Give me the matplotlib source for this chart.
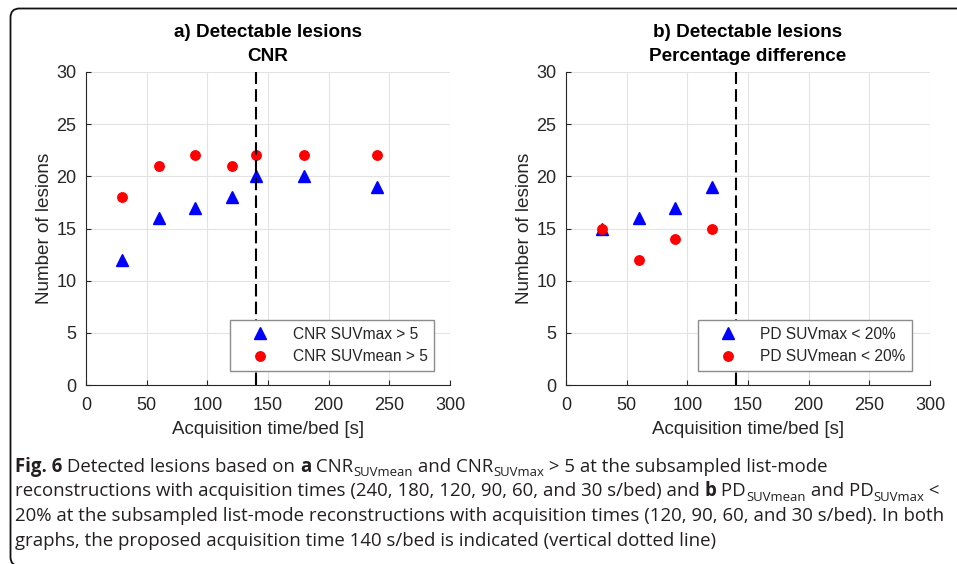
import matplotlib
matplotlib.use("Agg")
import matplotlib.pyplot as plt
from matplotlib.patches import FancyBboxPatch
from matplotlib.transforms import IdentityTransform

# panel a: CNR > 5
cnr_time = [30, 60, 90, 120, 140, 180, 240]
cnr_suvmax = [12, 16, 17, 18, 20, 20, 19]
cnr_suvmean = [18, 21, 22, 21, 22, 22, 22]
# panel b: percentage difference < 20%
pd_time = [30, 60, 90, 120]
pd_suvmax = [15, 16, 17, 19]
pd_suvmean = [15, 12, 14, 15]
proposed_time = 140

titles = ["a) Detectable lesions\nCNR", "b) Detectable lesions\nPercentage difference"]
labels_max = ["CNR SUVmax > 5", "PD SUVmax < 20%"]
labels_mean = ["CNR SUVmean > 5", "PD SUVmean < 20%"]
x_ticks = [0, 50, 100, 150, 200, 250, 300]
y_ticks = [0, 5, 10, 15, 20, 25, 30]

caption_lines = [
    [("Fig. 6", "b"), (" Detected lesions based on ", "n"), ("a", "b"), (" CNR", "n"),
     ("SUVmean", "s"), (" and CNR", "n"), ("SUVmax", "s"),
     (" > 5 at the subsampled list-mode", "n")],
    [("reconstructions with acquisition times (240, 180, 120, 90, 60, and 30 s/bed) and ", "n"),
     ("b", "b"), (" PD", "n"), ("SUVmean", "s"), (" and PD", "n"), ("SUVmax", "s"), (" <", "n")],
    [("20% at the subsampled list-mode reconstructions with acquisition times "
      "(120, 90, 60, and 30 s/bed). In both", "n")],
    [("graphs, the proposed acquisition time 140 s/bed is indicated (vertical dotted line)", "n")],
]

plt.rcParams['font.family'] = ['Liberation Sans', 'DejaVu Sans']
TXT = '#262626'

W, H = 957, 564
fig = plt.figure(figsize=(W / 100, H / 100), dpi=100)
fig.patch.set_facecolor('white')

# rounded frame around the figure + caption (open to the right / bottom)
frame = FancyBboxPatch((10.5, -2), 1000, 557.5, boxstyle="round,pad=0,rounding_size=9",
                       transform=IdentityTransform(), fill=False, ec='#111111', lw=1.3)
fig.add_artist(frame)


def px_axes(left, top, right, bottom):
    return fig.add_axes([left / W, 1 - bottom / H, (right - left) / W, (bottom - top) / H])


panels = [
    (px_axes(86, 72, 450, 385), cnr_time, cnr_suvmax, cnr_suvmean, 0.956),
    (px_axes(566, 72, 930, 385), pd_time, pd_suvmax, pd_suvmean, 0.951),
]

for i, (ax, t, smax, smean, lx) in enumerate(panels):
    ax.plot(t, smax, ls='none', marker='^', ms=8.5, color='#0000ff', label=labels_max[i])
    ax.plot(t, smean, ls='none', marker='o', ms=6.8, color='#ff0000', label=labels_mean[i])
    ax.axvline(proposed_time, color='black', lw=1.5, ls=(0, (6, 2.5)), zorder=5,
               label='_nolegend_')
    ax.set_xlim(0, 300)
    ax.set_ylim(0, 30)
    ax.set_xticks(x_ticks)
    ax.set_yticks(y_ticks)
    ax.grid(True, color='#e3e3e3', lw=0.8)
    ax.set_axisbelow(True)
    ax.spines['top'].set_visible(False)
    ax.spines['right'].set_visible(False)
    for s in ('left', 'bottom'):
        ax.spines[s].set_color(TXT)
        ax.spines[s].set_linewidth(0.8)
    ax.tick_params(direction='in', length=3.5, width=0.8, color=TXT, labelcolor=TXT,
                   labelsize=13)
    ax.tick_params(axis='x', pad=9)
    ax.tick_params(axis='y', pad=7)
    ax.set_title(titles[i], fontsize=13.6, fontweight='bold', pad=8, linespacing=1.55)
    ax.set_xlabel('Acquisition time/bed [s]', fontsize=13.5, color=TXT, labelpad=5)
    ax.set_ylabel('Number of lesions', fontsize=13.6, color=TXT, labelpad=2)
    leg = ax.legend(loc='lower right', bbox_to_anchor=(lx, 0.045), frameon=True,
                    fancybox=False, framealpha=1, edgecolor='#8c8c8c', fontsize=11.2,
                    handlelength=3.0, handletextpad=0.6, borderpad=0.42,
                    labelspacing=0.48, borderaxespad=0)
    leg.get_frame().set_linewidth(1.0)
    for txt in leg.get_texts():
        txt.set_color(TXT)

# ---- caption, drawn run by run in pixel coordinates ----
cap_family = 'Open Sans'
CAP = '#231f20'
renderer = fig.canvas.get_renderer()


def run_advance(s, size, weight):
    a = fig.text(0, 0, "|" + s + "|", fontsize=size, fontweight=weight, family=cap_family)
    b = fig.text(0, 0, "||", fontsize=size, fontweight=weight, family=cap_family)
    w = a.get_window_extent(renderer).width - b.get_window_extent(renderer).width
    a.remove()
    b.remove()
    return w


def style(kind, size):
    if kind == 'b':
        return size, 'bold'
    if kind == 's':
        return size * 0.7, 'normal'
    return size, 'normal'


def line_width(runs, size):
    return sum(run_advance(s, *style(k, size)) for s, k in runs)


# fit the caption size so that the widest line spans the same width as in the reference
base = 10.0
cap_size = base * 932.0 / line_width(caption_lines[2], base)

x0 = 15
baselines = [472, 496.5, 521, 545.5]
for runs, yb in zip(caption_lines, baselines):
    x = x0
    for s, k in runs:
        size, weight = style(k, cap_size)
        y = H - yb
        if k == 's':
            y -= cap_size * 0.3
        fig.text(x, y, s, fontsize=size, fontweight=weight, family=cap_family, color=CAP,
                 transform=IdentityTransform(), va='baseline', ha='left')
        x += run_advance(s, size, weight)

fig.savefig('out.png', dpi=100)
